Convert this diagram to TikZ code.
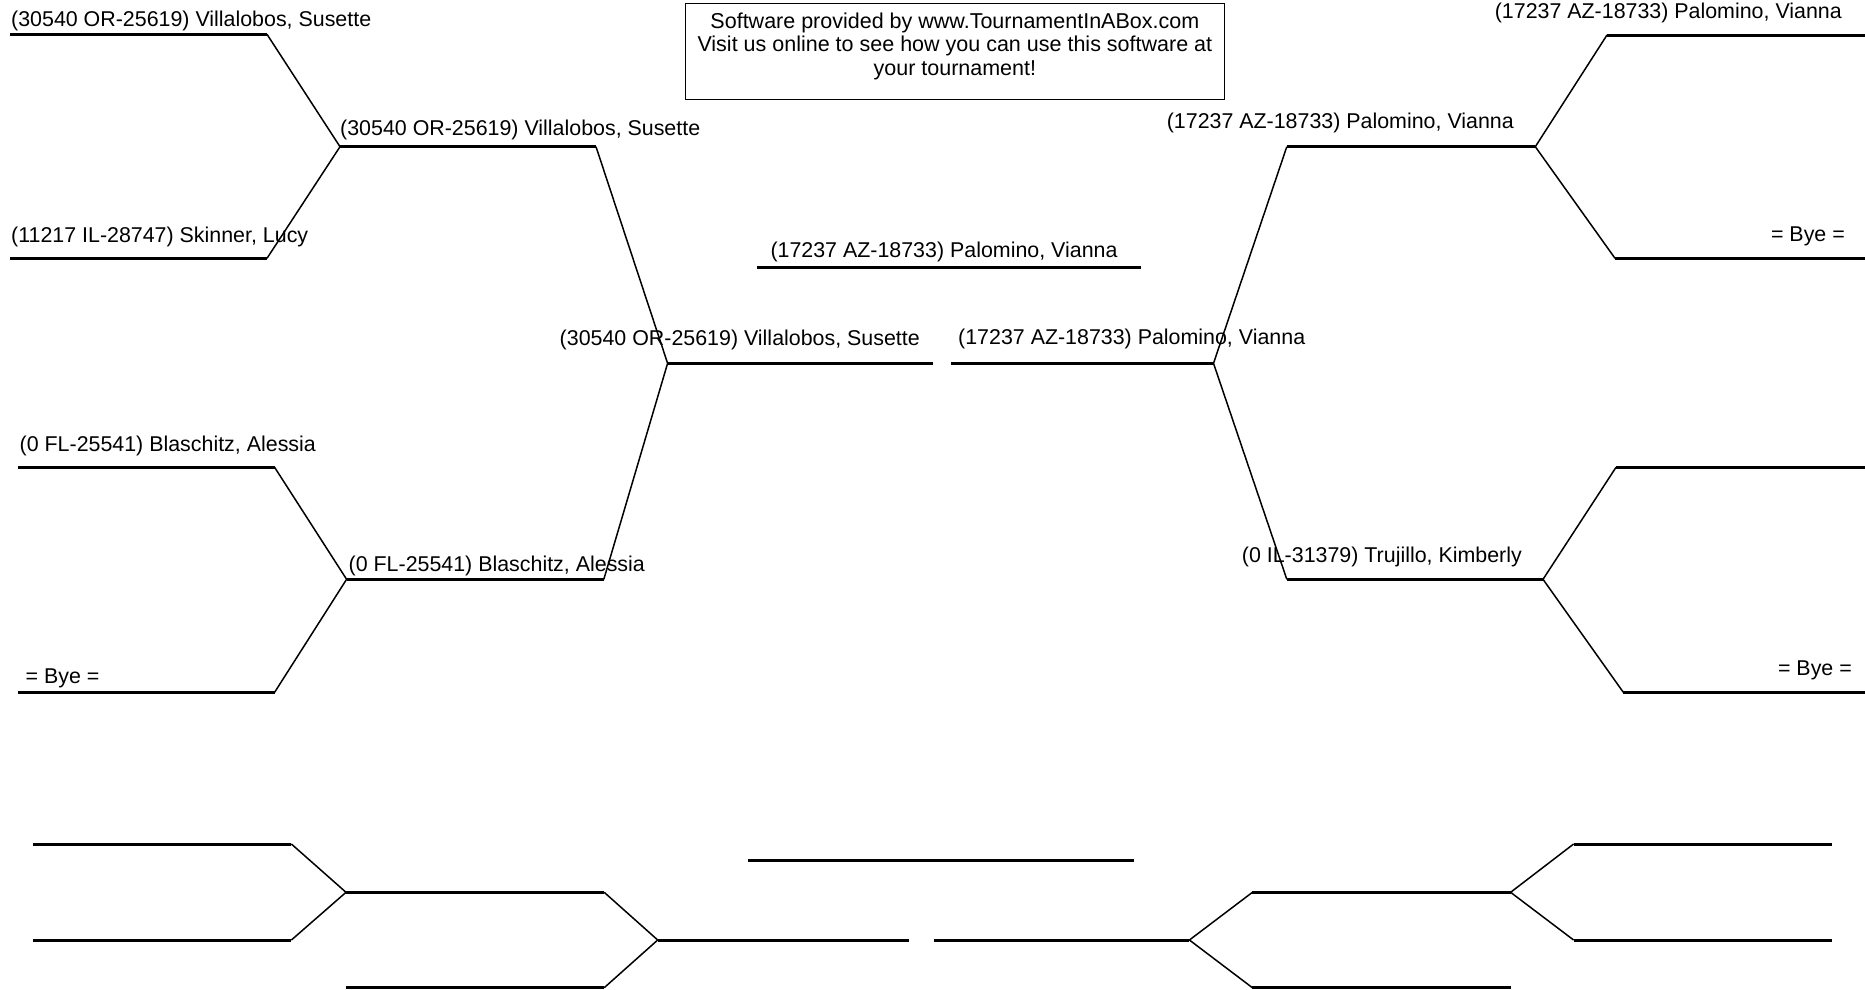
\documentclass[tikz,border=0pt]{standalone}
\usepackage{fontspec}
\setmainfont{Liberation Sans}
\tikzset{
  slot/.style={line width=3pt},
  link/.style={line width=1.5pt},
  lname/.style={anchor=base west,inner sep=0pt,font=\fontsize{21.4}{24}\selectfont},
  rname/.style={anchor=base east,inner sep=0pt,font=\fontsize{21.4}{24}\selectfont}
}
\begin{document}
\begin{tikzpicture}[x=1pt,y=-1pt]
\useasboundingbox (0,0) rectangle (1865,989);
% top bracket, left half
\coordinate (L1s) at (10,34.3);    \coordinate (L1e) at (267,34.3);
\coordinate (L2s) at (10,258.3);   \coordinate (L2e) at (267,258.3);
\coordinate (L3s) at (18.4,467.3); \coordinate (L3e) at (274.6,467.3);
\coordinate (L4s) at (18.4,692.3); \coordinate (L4e) at (274.6,692.3);
\coordinate (LA) at (340,146.7);   \coordinate (LAe) at (596,146.7);
\coordinate (LB) at (346.6,579.3); \coordinate (LBe) at (603.8,579.3);
\coordinate (LS) at (667.6,363.3); \coordinate (LSe) at (932.9,363.3);
% top bracket, right half
\coordinate (R1s) at (1865,35);    \coordinate (R1e) at (1607,35);
\coordinate (R2s) at (1865,258.3); \coordinate (R2e) at (1615,258.3);
\coordinate (R3s) at (1865,467.3); \coordinate (R3e) at (1616,467.3);
\coordinate (R4s) at (1865,692.3); \coordinate (R4e) at (1623.3,692.3);
\coordinate (RA) at (1535.3,146.7); \coordinate (RAe) at (1286.8,146.7);
\coordinate (RB) at (1543,579.3);   \coordinate (RBe) at (1286.8,579.3);
\coordinate (RS) at (1213.5,363.3); \coordinate (RSe) at (950.7,363.3);
\coordinate (F1) at (756.8,267.3);  \coordinate (F2) at (1141,267.3);

\draw [slot] (L1s)--(L1e) (L2s)--(L2e) (L3s)--(L3e) (L4s)--(L4e);
\draw [slot] (LA)--(LAe) (LB)--(LBe) (LS)--(LSe);
\draw [slot] (R1s)--(R1e) (R2s)--(R2e) (R3s)--(R3e) (R4s)--(R4e);
\draw [slot] (RA)--(RAe) (RB)--(RBe) (RS)--(RSe);
\draw [slot] (F1)--(F2);
\draw [link] (L1e)--(LA)--(L2e);
\draw [link] (L3e)--(LB)--(L4e);
\draw [link] (LAe)--(LS)--(LBe);
\draw [link] (R1e)--(RA)--(R2e);
\draw [link] (R3e)--(RB)--(R4e);
\draw [link] (RAe)--(RS)--(RBe);

\node [lname] (n1) at (11,26) {(30540 OR-25619) Villalobos, Susette};
\node [lname] (n2) at (11,242) {(11217 IL-28747) Skinner, Lucy};
\node [lname] (n3) at (19.5,451) {(0 FL-25541) Blaschitz, Alessia};
\node [lname] (n4) at (25.5,683) {= Bye =};
\node [lname] (n5) at (340,135.5) {(30540 OR-25619) Villalobos, Susette};
\node [lname] (n6) at (348.5,571.5) {(0 FL-25541) Blaschitz, Alessia};
\node [rname] (n7) at (920,345.5) {(30540 OR-25619) Villalobos, Susette};
\node [lname] (n8) at (958,344) {(17237 AZ-18733) Palomino, Vianna};
\node [anchor=base,inner sep=0pt,font=\fontsize{21.4}{24}\selectfont] (n9) at (944,257.5) {(17237 AZ-18733) Palomino, Vianna};
\node [rname] (n10) at (1514,128) {(17237 AZ-18733) Palomino, Vianna};
\node [rname] (n11) at (1842,18) {(17237 AZ-18733) Palomino, Vianna};
\node [rname] (n12) at (1845,241) {= Bye =};
\node [rname] (n13) at (1522,562) {(0 IL-31379) Trujillo, Kimberly};
\node [rname] (n14) at (1852,675.5) {= Bye =};

\node [draw,line width=1.2pt,anchor=north west,minimum width=539.5pt,minimum height=96pt,inner sep=0pt] (ad) at (684.5,3) {};
\node [anchor=north,align=center,inner sep=0pt,font=\fontsize{21.5}{23.5}\selectfont] (adtext) at ([yshift=-9.5pt]ad.north) {Software provided by www.TournamentInABox.com\\Visit us online to see how you can use this software at\\your tournament!};

% bottom bracket
\coordinate (b1s) at (33.3,844);   \coordinate (b1e) at (291.4,844);
\coordinate (b2s) at (33.3,940);   \coordinate (b2e) at (291.4,940);
\coordinate (bA) at (346,892.3);   \coordinate (bAe) at (604.2,892.3);
\coordinate (bB) at (346,987.7);   \coordinate (bBe) at (604.2,987.7);
\coordinate (bS) at (657.7,940);   \coordinate (bSe) at (908.7,940);
\coordinate (c1s) at (1831.7,844); \coordinate (c1e) at (1573.6,844);
\coordinate (c2s) at (1831.7,940); \coordinate (c2e) at (1573.6,940);
\coordinate (cA) at (1510.6,892.3); \coordinate (cAe) at (1252.4,892.3);
\coordinate (cB) at (1510.6,987.7); \coordinate (cBe) at (1252.4,987.7);
\coordinate (cS) at (1189.4,940);   \coordinate (cSe) at (933.7,940);
\coordinate (G1) at (748.1,860.3);  \coordinate (G2) at (1133.5,860.3);

\draw [slot] (b1s)--(b1e) (b2s)--(b2e) (bA)--(bAe) (bB)--(bBe) (bS)--(bSe);
\draw [slot] (c1s)--(c1e) (c2s)--(c2e) (cA)--(cAe) (cB)--(cBe) (cS)--(cSe);
\draw [slot] (G1)--(G2);
\draw [link] (b1e)--(bA)--(b2e);
\draw [link] (bAe)--(bS)--(bBe);
\draw [link] (c1e)--(cA)--(c2e);
\draw [link] (cAe)--(cS)--(cBe);

\end{tikzpicture}
\end{document}
